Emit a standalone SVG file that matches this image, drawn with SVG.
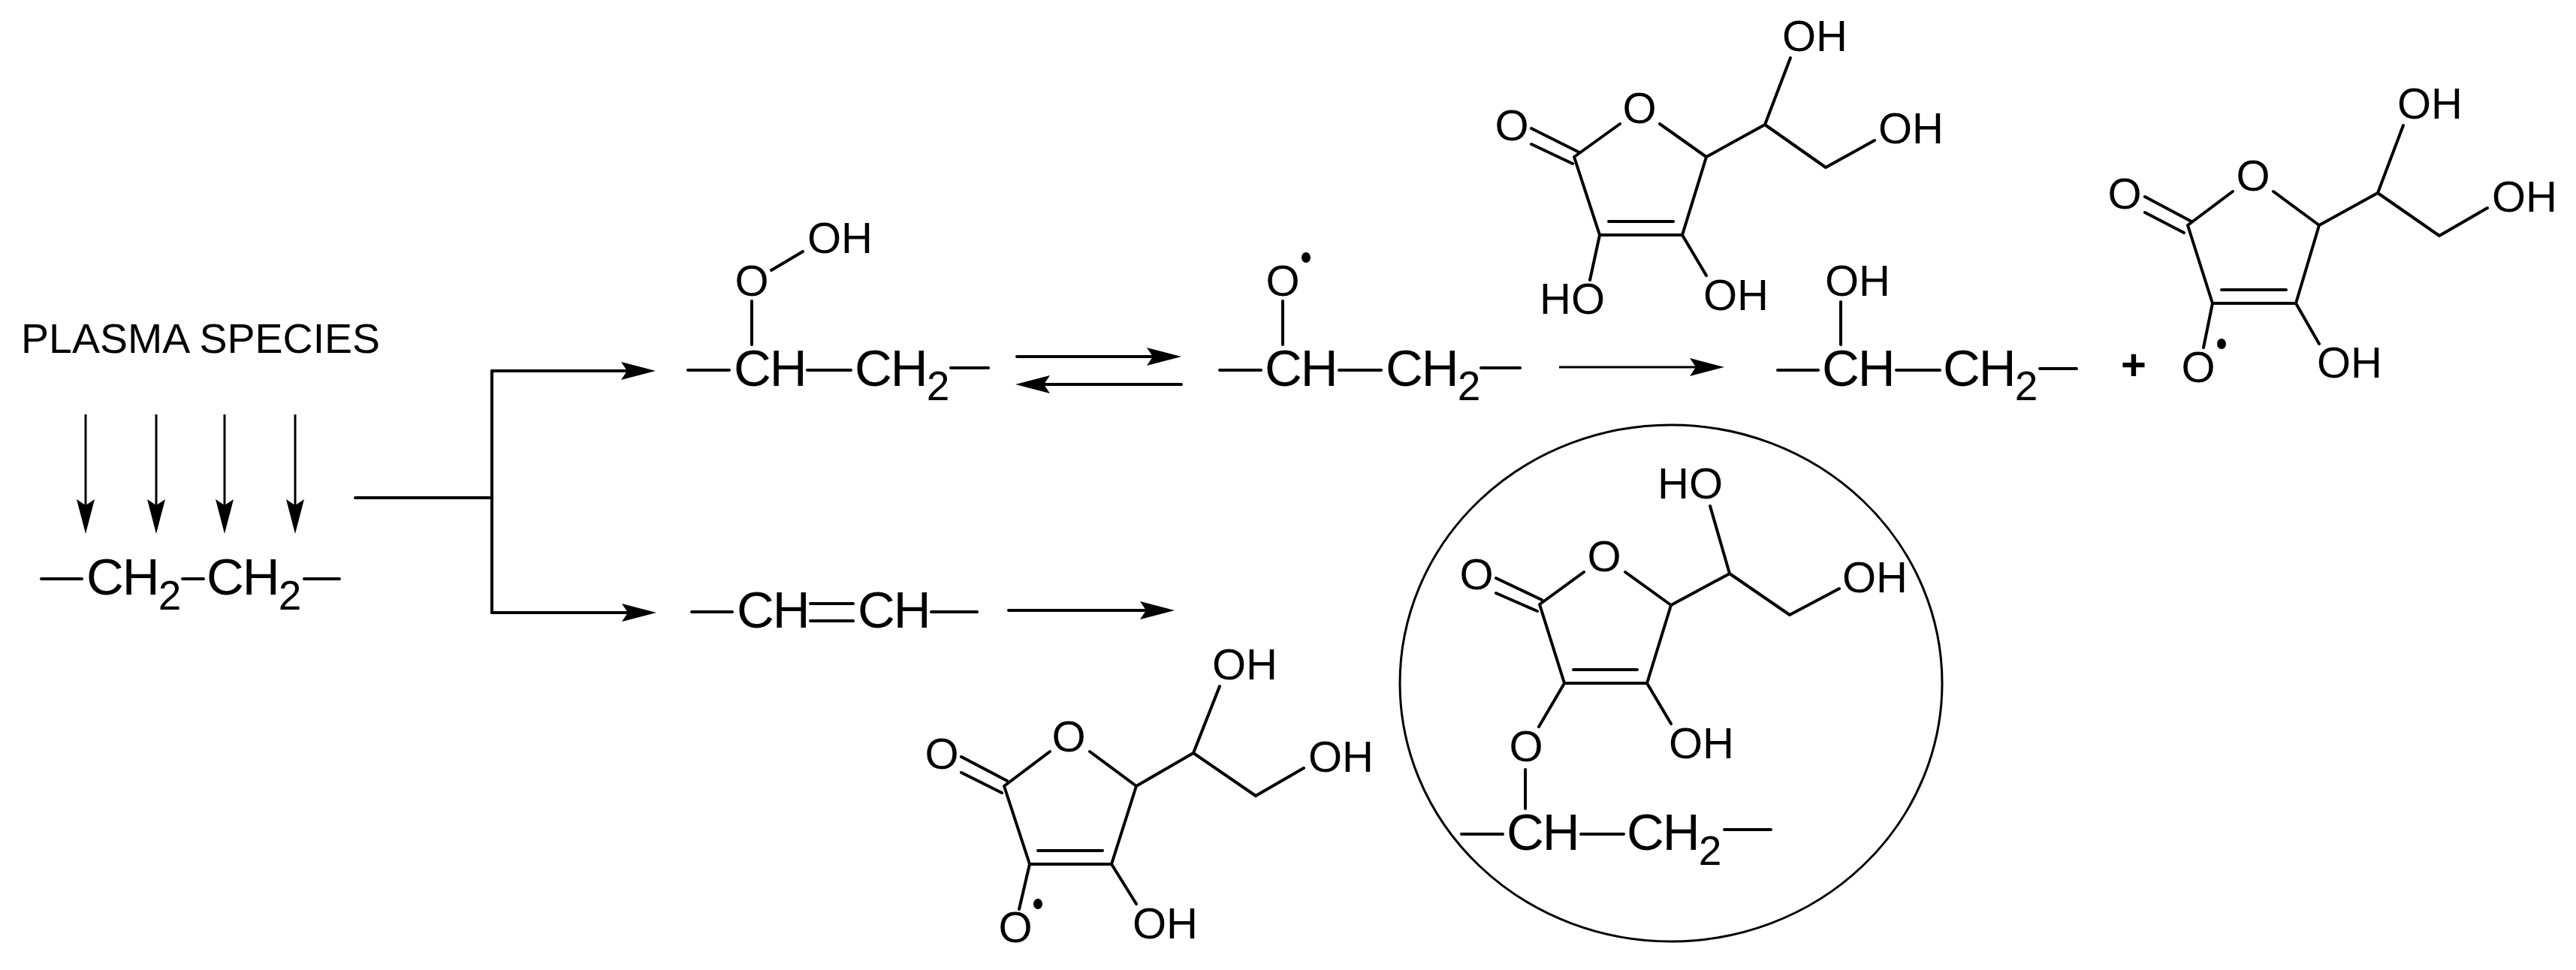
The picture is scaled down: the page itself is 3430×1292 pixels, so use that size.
<svg xmlns="http://www.w3.org/2000/svg" width="3430" height="1292" viewBox="0 0 3430 1292">
<style>
text{font-family:"Liberation Sans",Arial,sans-serif;fill:#000}
.a{font-size:58px}
.c{font-size:69px;letter-spacing:-2px}
.m{text-anchor:middle}
.sub{font-size:55px}
.p{font-size:55.5px}
.b{fill:none;stroke:#000;stroke-width:4;stroke-linecap:round;stroke-linejoin:round}
.t{fill:none;stroke:#000;stroke-width:3}
.k{fill:none;stroke:#000;stroke-width:4;stroke-linecap:round}
.ah{marker-end:url(#head)}
</style>
<defs>
<marker id="head" markerUnits="userSpaceOnUse" markerWidth="50" markerHeight="28" viewBox="0 -14 50 28" refX="16" refY="0" orient="auto">
<path d="M0,-12 L46,0 L0,12 L8,0 Z" fill="#000"/>
</marker>
</defs>
<rect width="3430" height="1292" fill="#fff"/>

<g id="connectors">
<path class="t ah" d="M114,552V681"/>
<path class="t ah" d="M208,552V681"/>
<path class="t ah" d="M299,552V681"/>
<path class="t ah" d="M393,552V681"/>
<path class="k" d="M473,663H655"/>
<path class="k" d="M655,494V816"/>
<path class="k ah" d="M655,494H843"/>
<path class="k ah" d="M655,816H844"/>
<path class="k ah" d="M1354,475H1543"/>
<path class="k ah" d="M1573,512H1382"/>
<path class="k ah" d="M1343,813H1534"/>
<path class="t ah" d="M2076,489H2266"/>
</g>

<g id="plasma-label"><text class="p" x="28" y="470">PLASMA SPECIES</text></g>

<g id="polyethylene">
<path class="b" d="M55,771H109M243,771H271M405,771H452"/>
<text class="c" x="115" y="792">CH<tspan class="sub" dy="20">2</tspan></text>
<text class="c" x="275" y="792">CH<tspan class="sub" dy="20">2</tspan></text>
</g>

<g id="hydroperoxide">
<path class="b" d="M1027,360L1069,335M1001,401V459M916,493H971M1075,493H1133M1266,490H1316"/>
<text class="a" x="1075" y="337">OH</text>
<text class="a m" x="1001" y="394">O</text>
<text class="c" x="977" y="514">CH</text>
<text class="c" x="1138" y="514">CH<tspan class="sub" dy="19">2</tspan></text>
</g>

<g id="alkoxy-radical">
<path class="b" d="M1708,401V459M1624,493H1679M1783,493H1839M1972,490H2024"/>
<ellipse cx="1739" cy="343" rx="6" ry="7" fill="#000"/>
<text class="a m" x="1708" y="394">O</text>
<text class="c" x="1684" y="514">CH</text>
<text class="c" x="1845" y="514">CH<tspan class="sub" dy="19">2</tspan></text>
</g>

<g id="ascorbic-acid">
<path class="b" d="M2157,165L2096,209L2130,313H2240L2272,209L2210,165M2142,295H2228M2039,171L2103,203M2039,192L2094,218M2272,209L2350,166L2384,77M2350,166L2431,223L2496,187M2130,313L2117,373M2240,313L2272,367"/>
<text class="a m" x="2183" y="164">O</text>
<text class="a m" x="2013" y="187">O</text>
<text class="a" x="2373" y="68">OH</text>
<text class="a" x="2501" y="191">OH</text>
<text class="a" x="2050" y="418">HO</text>
<text class="a" x="2268" y="413">OH</text>
</g>

<g id="alcohol">
<path class="b" d="M2451,402V459M2367,493H2421M2525,493H2583M2716,491H2765"/>
<text class="a" x="2430" y="394">OH</text>
<text class="c" x="2426" y="514">CH</text>
<text class="c" x="2587" y="514">CH<tspan class="sub" dy="19">2</tspan></text>
</g>

<g id="plus"><text x="2841" y="506" font-size="58" font-weight="bold" text-anchor="middle">+</text></g>

<g id="ascorbyl-radical-1">
<path class="b" d="M2973,255L2913,300L2946,404H3057L3088,300L3027,255M2958,386H3044M2856,262L2918,295M2856,283L2908,310M3088,300L3166,257L3200,167M3166,257L3248,314L3312,277M2946,404L2934,463M3057,404L3088,458"/>
<ellipse cx="2958" cy="458" rx="6" ry="7" fill="#000"/>
<text class="a m" x="3000" y="254">O</text>
<text class="a m" x="2829" y="278">O</text>
<text class="a m" x="2927" y="509">O</text>
<text class="a" x="3192" y="158">OH</text>
<text class="a" x="3318" y="282">OH</text>
<text class="a" x="3085" y="503">OH</text>
</g>

<g id="vinylene">
<path class="b" d="M921,815H975M1079,804H1136M1079,827H1136M1240,815H1301"/>
<text class="c" x="981" y="836">CH</text>
<text class="c" x="1142" y="836">CH</text>
</g>

<g id="ascorbyl-radical-2">
<path class="b" d="M1398,1001L1337,1047L1371,1151H1480L1513,1047L1451,1001M1382,1133H1468M1280,1008L1341,1040M1280,1029L1334,1056M1513,1047L1589,1003L1624,914M1589,1003L1672,1060L1736,1023M1480,1151L1513,1204M1371,1151L1357,1211"/>
<ellipse cx="1382" cy="1204" rx="6" ry="7" fill="#000"/>
<text class="a m" x="1423" y="1001">O</text>
<text class="a m" x="1254" y="1024">O</text>
<text class="a m" x="1352" y="1255">O</text>
<text class="a" x="1614" y="905">OH</text>
<text class="a" x="1742" y="1028">OH</text>
<text class="a" x="1508" y="1250">OH</text>
</g>

<g id="grafted-product">
<ellipse cx="2225" cy="910" rx="361" ry="344" fill="none" stroke="#000" stroke-width="3"/>
<path class="b" d="M2109,762L2050,805L2083,910H2193L2225,806L2164,762M2095,892H2180M1992,770L2053,799M1992,790L2047,814M2225,806L2303,764L2277,674M2303,764L2383,819L2449,784M2193,910L2225,964M2083,910L2049,968M2031,1025V1077M1946,1111H2001M2105,1111H2162M2296,1105H2358"/>
<text class="a" x="2207" y="664">HO</text>
<text class="a m" x="2136" y="761">O</text>
<text class="a m" x="1966" y="785">O</text>
<text class="a" x="2453" y="789">OH</text>
<text class="a" x="2222" y="1010">OH</text>
<text class="a m" x="2032" y="1014">O</text>
<text class="c" x="2006" y="1132">CH</text>
<text class="c" x="2166" y="1132">CH<tspan class="sub" dy="20">2</tspan></text>
</g>
</svg>
